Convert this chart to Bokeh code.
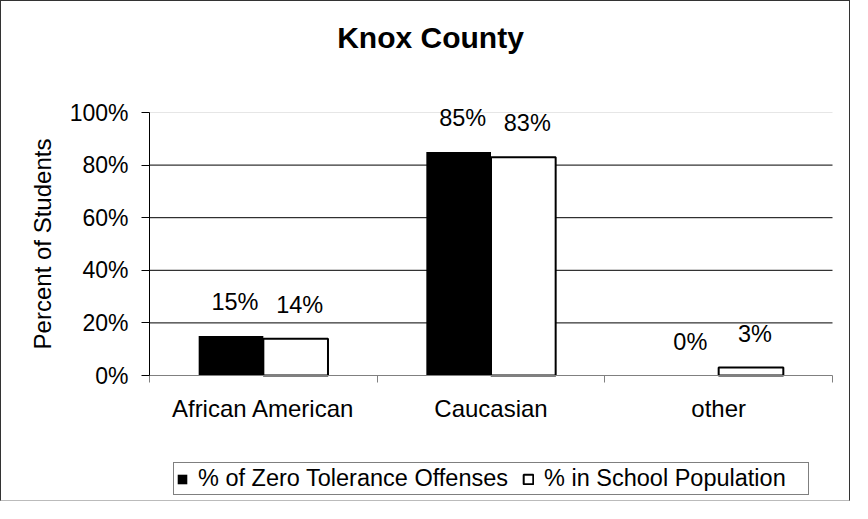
import math
from bokeh.plotting import figure
from bokeh.models import (Range1d, FixedTicker, LabelSet, Label, ColumnDataSource,
                          Legend, LegendItem)
from bokeh.core.properties import value
from bokeh.transform import dodge
from bokeh.embed import file_html
from bokeh.resources import INLINE

# ---- data ----
categories = ["African American", "Caucasian", "other"]
zero_tolerance = [15, 85, 0]
school_population = [14, 83, 3]
series_names = ["% of Zero Tolerance Offenses", "% in School Population"]
y_ticks = [0, 20, 40, 60, 80, 100]
title_text = "Knox County"
y_label = "Percent of Students"

FONT = "Liberation Sans"

# ---- layout (canvas pixels) ----
W, H = 850, 501
LEFT_PX, RIGHT_PX = 148, 831        # canvas x of plot-area edges
TOP_PX, ZERO_PX = 111, 374          # canvas y of 100% and 0%
n = len(categories)
ppx = (RIGHT_PX - LEFT_PX) / n
x_start = -LEFT_PX / ppx
x_end = n + (W - RIGHT_PX) / ppx
ppu = (ZERO_PX - TOP_PX) / (y_ticks[-1] - y_ticks[0])
y_start = -(H - ZERO_PX) / ppu
y_end = y_ticks[-1] + TOP_PX / ppu

xs = [i + 0.5 for i in range(n)]
src = ColumnDataSource(dict(
    x=xs,
    zt=zero_tolerance,
    sp=school_population,
    zt_lbl=[f"{v}%" for v in zero_tolerance],
    sp_lbl=[f"{v}%" for v in school_population],
))

p = figure(width=W, height=H,
           x_range=Range1d(x_start, x_end), y_range=Range1d(y_start, y_end),
           output_backend="svg", toolbar_location=None,
           min_border_left=0, min_border_right=0,
           min_border_top=0, min_border_bottom=0)
p.styles = {"border": "1px solid #333333", "border-bottom-color": "#bbbbbb"}
p.background_fill_color = "white"
p.border_fill_color = "white"
p.outline_line_color = None
p.xgrid.visible = False
p.ygrid.visible = False

# horizontal gridlines, only across the plot area
inner = y_ticks[1:-1]
p.segment(x0=[0] * len(inner), x1=[n] * len(inner), y0=inner, y1=inner,
          line_color="black", line_width=1, level="underlay")
p.segment(x0=[0], x1=[n], y0=[y_ticks[-1]], y1=[y_ticks[-1]],
          line_color="#e6e6e6", line_width=1, level="underlay")

bw = 0.284
off = bw / 2
r1 = p.vbar(x=dodge("x", -off, range=p.x_range), top="zt", bottom=0, width=bw,
            fill_color="black", line_color=None, source=src)
r2 = p.vbar(x=dodge("x", off, range=p.x_range), top="sp", bottom=0, width=bw,
            fill_color="white", line_color="black", line_width=2, source=src)

for col, lbl, o in (("zt", "zt_lbl", -off), ("sp", "sp_lbl", off)):
    ls = LabelSet(x=dodge("x", o, range=p.x_range), y=col, text=lbl, source=src,
                  x_offset=4, y_offset=26, text_align="center",
                  text_baseline="alphabetic", text_font=value(FONT),
                  text_font_size="23.5px", text_color="black")
    p.add_layout(ls)

# y axis (drawn at the left edge of the plot area)
yax = p.yaxis[0]
yax.fixed_location = 0
yax.bounds = (y_ticks[0], y_ticks[-1])
yax.ticker = FixedTicker(ticks=y_ticks)
yax.major_label_overrides = {t: f"{t}%" for t in y_ticks}
yax.major_tick_out = 8
yax.major_tick_in = 0
yax.minor_tick_line_color = None
yax.axis_line_color = "black"
yax.major_tick_line_color = "black"
yax.major_label_standoff = 13
yax.major_label_text_font = FONT
yax.major_label_text_font_size = "23px"
yax.major_label_text_color = "black"

# y axis title (screen units from the frame's bottom-left)
p.add_layout(Label(text=y_label, x=41, y=H - (TOP_PX + ZERO_PX) / 2,
                   x_units="screen", y_units="screen", angle=math.pi / 2,
                   text_align="center", text_baseline="middle",
                   text_font=FONT, text_font_size="24px", text_color="black"))

# x axis (drawn at 0%)
xax = p.xaxis[0]
xax.fixed_location = 0
xax.bounds = (0, n)
xax.ticker = FixedTicker(ticks=xs, minor_ticks=list(range(n + 1)))
xax.major_label_overrides = {x: c for x, c in zip(xs, categories)}
xax.major_tick_out = 0
xax.major_tick_in = 0
xax.minor_tick_out = 7
xax.minor_tick_in = 0
xax.minor_tick_line_color = "#808080"
xax.axis_line_color = "#808080"
xax.major_label_standoff = 12
xax.major_label_text_font = FONT
xax.major_label_text_font_size = "24px"
xax.major_label_text_color = "black"

# chart title
p.add_layout(Label(text=title_text, x=429, y=H - 35.5, x_units="screen",
                   y_units="screen", text_align="center",
                   text_baseline="alphabetic", text_font=FONT,
                   text_font_size="30px", text_font_style="bold",
                   text_color="black"))

# legend
legend = Legend(items=[LegendItem(label=series_names[0], renderers=[r1]),
                       LegendItem(label=series_names[1], renderers=[r2])],
                orientation="horizontal", location=(172, 7))
legend.border_line_color = "black"
legend.border_line_width = 1
legend.background_fill_color = "white"
legend.background_fill_alpha = 1
legend.label_text_font = FONT
legend.label_text_font_size = "23.5px"
legend.label_text_color = "black"
legend.label_width = 262
legend.glyph_width = 12
legend.glyph_height = 12
legend.label_standoff = 10
legend.spacing = 14
legend.padding = 2
legend.margin = 0
p.add_layout(legend, "center")

open("out.html", "w").write(file_html(p, INLINE))
